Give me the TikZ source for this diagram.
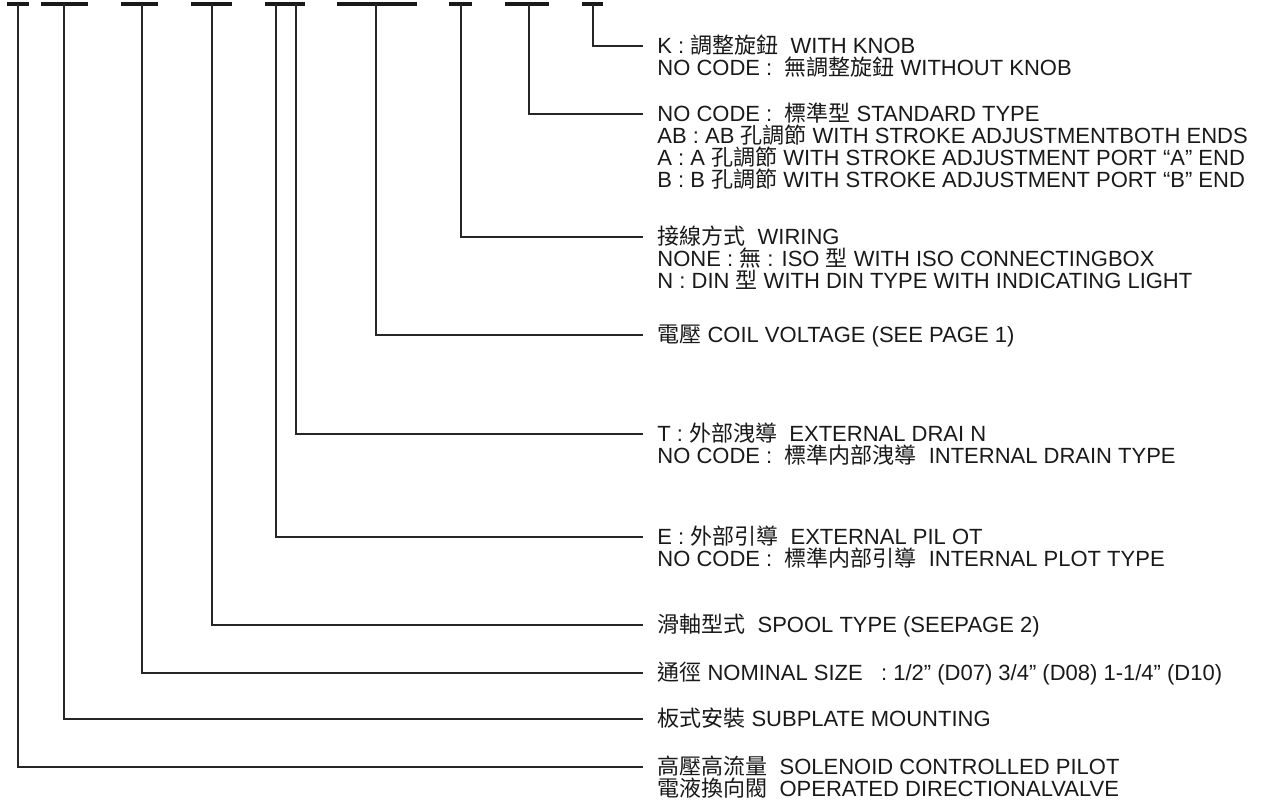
\documentclass[tikz,border=0pt]{standalone}
\usepackage{fontspec}
\setmainfont{Liberation Sans}
\newfontfamily\cjkfont{Noto Sans CJK TC}
\newcommand\zh[1]{{\cjkfont #1}}
\begin{document}
\begin{tikzpicture}[x=.5pt,y=-.5pt,font=\fontsize{11}{11}\selectfont,
  bar/.style={line width=1.6pt,black!90},
  lead/.style={line width=.85pt,black!85,shorten >=7pt},
  lbl/.style={anchor=west,inner sep=0pt,text height=7.9pt,text depth=0pt,text=black!90}]
\useasboundingbox (0,0) rectangle (1264,807);
\draw[bar] (7,4) -- (29,4);
\coordinate (s1) at (18,4);
\draw[bar] (41,4) -- (88,4);
\coordinate (s2) at (64,4);
\draw[bar] (121,4) -- (158,4);
\coordinate (s3) at (142,4);
\draw[bar] (191,4) -- (232,4);
\coordinate (s4) at (212,4);
\draw[bar] (265,4) -- (305,4);
\coordinate (s5) at (276,4);
\coordinate (s6) at (296,4);
\draw[bar] (337,4) -- (417,4);
\coordinate (s7) at (376,4);
\draw[bar] (449,4) -- (472,4);
\coordinate (s8) at (461,4);
\draw[bar] (505,4) -- (549,4);
\coordinate (s9) at (529,4);
\draw[bar] (582,4) -- (603,4);
\coordinate (s10) at (593,4);
\node[lbl] (knob) at (657,46) {K : \zh{調整旋鈕}\ \ WITH KNOB};
\node[lbl] at (657,68) {NO CODE :\ \ \zh{無調整旋鈕} WITHOUT KNOB};
\node[lbl] (stroke) at (657,114) {NO CODE :\ \ \zh{標準型} STANDARD TYPE};
\node[lbl] at (657,136) {AB : AB \zh{孔調節} WITH STROKE ADJUSTMENTBOTH ENDS};
\node[lbl] at (657,158) {A : A \zh{孔調節} WITH STROKE ADJUSTMENT PORT “A” END};
\node[lbl] at (657,180) {B : B \zh{孔調節} WITH STROKE ADJUSTMENT PORT “B” END};
\node[lbl] (wiring) at (657,237) {\zh{接線方式}\ \ WIRING};
\node[lbl] at (657,259) {NONE : \zh{無} : ISO \zh{型} WITH ISO CONNECTINGBOX};
\node[lbl] at (657,281) {N : DIN \zh{型} WITH DIN TYPE WITH INDICATING LIGHT};
\node[lbl] (coil) at (657,335) {\zh{電壓} COIL VOLTAGE (SEE PAGE 1)};
\node[lbl] (drain) at (657,434) {T :\ \zh{外部洩導}\ \ EXTERNAL DRAI N};
\node[lbl] at (657,456) {NO CODE :\ \ \zh{標準内部洩導}\ \ INTERNAL DRAIN TYPE};
\node[lbl] (pilot) at (657,537) {E :\ \zh{外部引導}\ \ EXTERNAL PIL OT};
\node[lbl] at (657,559) {NO CODE :\ \ \zh{標準内部引導}\ \ INTERNAL PLOT TYPE};
\node[lbl] (spool) at (657,625) {\zh{滑軸型式}\ \ SPOOL TYPE (SEEPAGE 2)};
\node[lbl] (size) at (657,673) {\zh{通徑} NOMINAL SIZE\ \ \ : 1/2” (D07) 3/4” (D08) 1-1/4” (D10)};
\node[lbl] (mount) at (657,719) {\zh{板式安裝} SUBPLATE MOUNTING};
\node[lbl] (solenoid) at (657,767) {\zh{高壓高流量}\ \ SOLENOID CONTROLLED PILOT};
\node[lbl] at (657,789) {\zh{電液換向閥}\ \ OPERATED DIRECTIONALVALVE};
\draw[lead] (s10) |- (knob.west);
\draw[lead] (s9) |- (stroke.west);
\draw[lead] (s8) |- (wiring.west);
\draw[lead] (s7) |- (coil.west);
\draw[lead] (s6) |- (drain.west);
\draw[lead] (s5) |- (pilot.west);
\draw[lead] (s4) |- (spool.west);
\draw[lead] (s3) |- (size.west);
\draw[lead] (s2) |- (mount.west);
\draw[lead] (s1) |- (solenoid.west);
\end{tikzpicture}
\end{document}
